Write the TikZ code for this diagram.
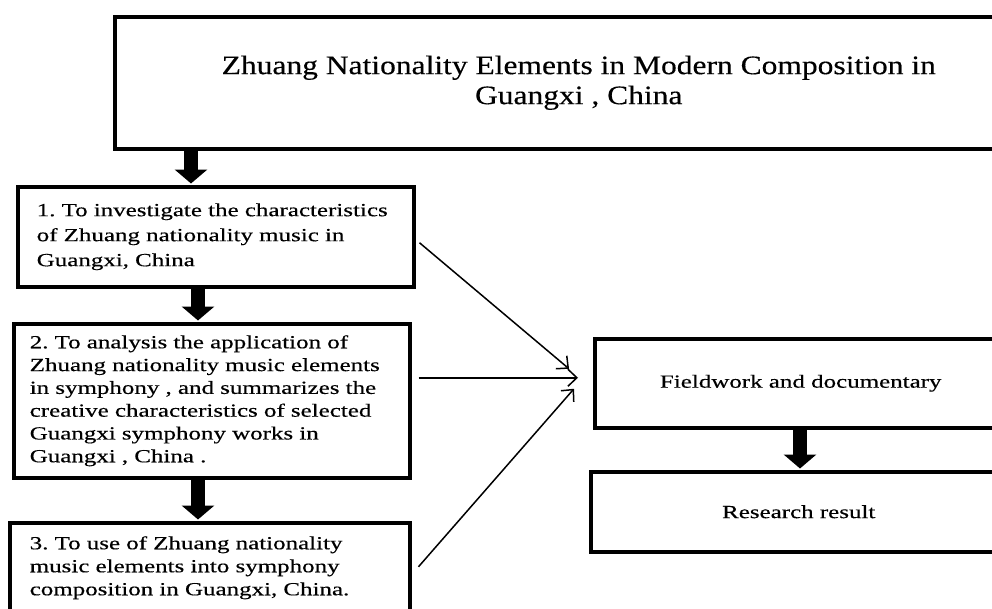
\documentclass[tikz,border=0pt]{standalone}
\usepackage{fontspec}
\setmainfont{Liberation Serif}
\newfontfamily\titlefont{Liberation Serif}[FakeStretch=1.18,FakeBold=0.3]
\newfontfamily\boxfont{Liberation Serif}[FakeStretch=1.35,FakeBold=0.4]
\usetikzlibrary{arrows.meta}
\frenchspacing
\begin{document}
\begin{tikzpicture}[x=1pt,y=-1pt,
  box/.style={draw,line width=3.5pt,rectangle,anchor=north west,inner sep=0pt},
  fat/.style={line width=14pt,-{Triangle[width=32pt,length=14pt]}},
  thinarrow/.style={line width=1.5pt,-{Straight Barb[length=9pt,width=17pt]}}]
\clip (0,0) rectangle (992,608);
\useasboundingbox (0,0) rectangle (992,608);
\fill[white] (0,0) rectangle (992,608);

\node[box, minimum width=928pt, minimum height=132pt, align=center,
      font=\titlefont\fontsize{26.7}{30}\selectfont] (title) at (113,15)
  {Zhuang Nationality Elements in Modern Composition in\\Guangxi , China};

\node[box, minimum height=100pt, text width=358pt, inner xsep=19pt, align=left,
      font=\boxfont\fontsize{18.5}{25}\selectfont] (b1) at (16,185)
  {1. To investigate the characteristics\\of Zhuang nationality music in\\Guangxi, China};

\node[box, minimum height=154pt, text width=364pt, inner xsep=16pt, align=left,
      font=\boxfont\fontsize{18.5}{22.8}\selectfont] (b2) at (12,322)
  {2. To analysis the application of\\Zhuang nationality music elements\\in symphony , and summarizes the\\creative characteristics of selected\\Guangxi symphony works in\\Guangxi , China .};

\node[box, minimum height=90pt, text width=360pt, inner xsep=20pt, align=left,
      font=\boxfont\fontsize{18.5}{23}\selectfont] (b3) at (8,521)
  {3. To use of Zhuang nationality\\music elements into symphony\\composition in Guangxi, China.};

\node[box, minimum width=412pt, minimum height=89pt, align=center,
      font=\boxfont\fontsize{18.5}{23}\selectfont] (fw) at (593,337)
  {Fieldwork and documentary};

\node[box, minimum width=416pt, minimum height=80pt, align=center,
      font=\boxfont\fontsize{18.5}{23}\selectfont] (rr) at (589,470)
  {Research result};

\coordinate (a1) at (191,0);
\coordinate (a2) at (198,0);
\coordinate (a4) at (800,0);
\draw[fat] (a1 |- title.south) -- ([yshift=1.5pt]a1 |- b1.north);
\draw[fat] (a2 |- b1.south) -- ([yshift=1.5pt]a2 |- b2.north);
\draw[fat] (a2 |- b2.south) -- ([yshift=1.5pt]a2 |- b3.north);
\draw[fat] (a4 |- fw.south) -- ([yshift=1.5pt]a4 |- rr.north);

\draw[thinarrow] ([xshift=4pt,yshift=-6pt]b1.east) -- ([xshift=-24pt,yshift=14.5pt]fw.west);
\draw[thinarrow] ([xshift=7pt,yshift=23pt]b2.east) -- ([xshift=-15pt,yshift=5.5pt]fw.west);
\draw[thinarrow] ([xshift=7pt,yshift=1pt]b3.east) -- ([xshift=-19pt,yshift=-5.5pt]fw.west);
\end{tikzpicture}
\end{document}
